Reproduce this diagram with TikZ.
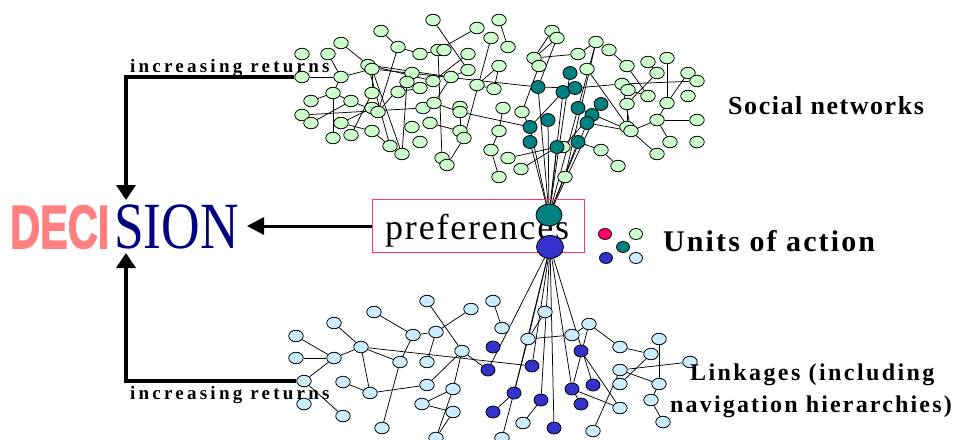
\documentclass[tikz,border=0pt]{standalone}
\usepackage{fontspec}
\setmainfont{Liberation Serif}
\newfontfamily\decisans{Liberation Sans}[FakeBold=2.5]
\usetikzlibrary{shapes.geometric,arrows.meta,backgrounds}
\definecolor{lgreen}{HTML}{CCFFCC}
\definecolor{tealc}{HTML}{008080}
\definecolor{lblue}{HTML}{CCECFF}
\definecolor{dblue}{HTML}{3333CC}
\definecolor{salmonc}{HTML}{FF8080}
\definecolor{navyc}{HTML}{000080}
\definecolor{pinkbox}{HTML}{FF3377}
\definecolor{reddot}{HTML}{FF0066}
\tikzset{
  nd/.style={ellipse, draw=black, line width=0.8pt, minimum width=14.5pt, minimum height=11.5pt, inner sep=0pt},
  gn/.style={nd, fill=lgreen},
  tn/.style={nd, fill=tealc, minimum width=14pt, minimum height=13pt},
  bn/.style={nd, fill=lblue},
  dn/.style={nd, fill=dblue, minimum width=14pt, minimum height=12pt},
  lnk/.style={line width=0.75pt},
  bigarrow/.style={line width=4pt, line join=miter, -{Triangle[width=19pt,length=15pt]}},
  midarrow/.style={line width=3pt, -{Triangle[width=17pt,length=17pt]}},
  lbl/.style={anchor=base west, inner sep=0pt},
}
\begin{document}
\begin{tikzpicture}[x=1pt,y=-1pt]
\useasboundingbox (0,0) rectangle (955,439);
% top network nodes
\foreach \n/\x/\y in {A1/381/31, A2/341/43, A3/398/47, A4/420/54, A5/302/54, A6/328/54, A7/368/65, A8/372/69, A9/302/77, A10/341/77, A11/412/73, A12/407/82, A13/420/88, A14/311/101, A15/333/93, A16/351/101, A17/372/93, A18/398/92, A19/372/108, A20/378/112, A21/423/108, A22/302/115, A23/311/123, A24/341/123, A25/351/135, A26/333/138, A27/372/131, A28/412/127, A29/390/146, A30/402/154, A31/420/142,
B1/433/20, B2/499/20, B3/477/28, B4/552/31, B5/557/38, B6/491/38, B7/508/47, B8/438/50, B9/444/50, B10/468/54, B11/534/58, B12/539/66, B13/499/66, B14/468/70, B15/451/77, B16/433/81, B17/477/85, B18/494/89, B19/434/103, B20/460/107, B21/460/112, B22/503/108, B23/522/112, B24/430/123, B25/460/131, B26/464/138, B27/499/131, B28/491/150, B29/508/158, B30/442/158, B31/447/165, B32/521/169, B33/499/177,
C1/596/42, C2/609/50, C3/578/54, C4/587/69, C5/627/66, C6/648/62, C7/667/58, C8/657/73, C9/688/73, C10/697/81, C11/622/84, C12/628/90, C13/648/96, C14/688/96, C15/667/103, C16/627/104, C17/627/127, C18/631/131, C19/657/120, C20/697/120, C21/563/147, C22/601/150, C23/670/142, C24/697/142, C25/657/154, C26/618/166, C27/565/177}
  \node[gn] (\n) at (\x,\y) {};
\foreach \n/\x/\y in {T1/538/87, T2/563/92, T3/570/73, T4/575/88, T5/530/127, T6/548/120, T7/530/142, T8/557/147, T9/601/104, T10/578/108, T11/592/115, T12/587/123, T13/578/142}
  \node[tn] (\n) at (\x,\y) {};
% bottom network nodes
\foreach \n/\x/\y in {D1/374/312, D2/334/323, D3/413/335, D4/296/336, D5/361/347, D6/334/358, D7/296/358, D8/400/362, D9/304/381, D10/343/382, D11/370/393, D12/304/404, D13/343/416, D14/382/428, D15/427/301, D16/493/301, D17/471/309, D18/545/312, D19/436/332, D20/502/328, D21/528/339, D22/462/351, D23/427/362, D24/427/385, D25/453/389, D26/422/404, D27/453/412, D28/523/423, D29/436/438, D30/502/438, D31/589/324, D32/572/335, D33/659/339, D34/620/347, D35/651/354, D36/620/370, D37/690/362, D38/620/384, D39/659/384, D40/651/400, D41/620/408, D42/663/422, D43/593/431}
  \node[bn] (\n) at (\x,\y) {};
\foreach \n/\x/\y in {E1/493/347, E2/488/370, E3/532/366, E4/514/393, E5/541/400, E6/493/412, E7/554/428, E8/581/351, E9/593/385, E10/572/389, E11/581/404}
  \node[dn] (\n) at (\x,\y) {};
% preferences
\node[draw=pinkbox, line width=1.1pt, minimum width=212pt, minimum height=53pt, anchor=north west, inner sep=0pt] (pref) at (372,199) {};
\node[lbl, font=\fontsize{36}{36}\selectfont\addfontfeatures{LetterSpace=5}] (preftext) at (385,239) {preferences};
% hubs
\node[nd, fill=tealc, minimum width=26pt, minimum height=22pt] (hubT) at (549,215) {};
\node[nd, fill=dblue, minimum width=27pt, minimum height=23pt] (hubB) at (550,247) {};
% edges
\begin{scope}[on background layer]
\foreach \a/\b in {A2/A7, A3/A1, A3/A4, A3/A20, A9/A10, A10/A8, A10/A15, A6/A10, A8/A17, A8/A30, A7/A29, A15/A14, A15/A26, A15/A16, A16/A20, A22/A21, A23/A16, A24/A27, A24/A19, A27/A29, A20/A11, A12/A30, A25/A17, A18/A13, A7/B15, A7/B16, A8/T1, A4/B9,
B1/B14, B2/B7, B3/B8, B6/B26, B8/B30, B14/B15, B15/B19, B13/B17, B17/B18, B21/T5, B21/B25, B21/B19, B24/B25, B26/B31, B22/B27, B23/T5, B12/B23, B11/B4, B11/B5, B11/C3, B5/T1, T1/T4, B28/B33, B29/T8, B32/T8, T5/T2, B10/B16, B28/B27, B18/B13,
C1/C3, C1/C27, C2/C5, C5/C13, C6/C8, C7/C15, C8/C16, C9/C15, C11/C10, T4/C11, C11/C18, C12/C13, C18/C19, C19/C20, C19/C23, C19/C15, C18/C25, T10/C18, C4/C18, T12/C18, C22/C26, T9/C21, C16/C17, T13/C22,
hubT/T1, hubT/T2, hubT/T3, hubT/T5, hubT/T6, hubT/T7, hubT/T8, hubT/T12, hubT/T13, hubT/C1, hubT/T9,
D1/D3, D2/D5, D4/D6, D7/D6, D6/D5, D5/E3, D22/E2, D5/D8, D5/D11, D3/D19, D8/D3, D8/D14, D9/D6, D9/D13, D10/D11, D11/D24, D15/D22, D17/D19, D19/D23, D16/D20, D18/D21, D21/D32, D22/D24, D22/D25, D26/D25, D26/D27, D25/D29, D27/D29, E6/E4, D28/E5, D21/D30, D31/D32, D31/D34, D31/E10, E8/D41, D34/D35, D36/D37, D36/D39, D36/D43, D35/D38, D33/D39, D39/D40, D40/D42, E10/E11, E10/D41,
hubB/E2, hubB/E4, hubB/E5, hubB/E7, hubB/E10, hubB/E9, hubB/E3, hubB/D21}
  \draw[lnk] (\a) -- (\b);
\end{scope}
% DECISION
\node[lbl, text=salmonc, font=\decisans\bfseries\fontsize{61}{61}\selectfont] (deci) at (10,248) {\scalebox{0.68}[1]{DECI}};
\node[lbl, text=navyc, font=\fontsize{66}{66}\selectfont] (sion) at (114,248) {\scalebox{0.81}[1]{SION}};
% arrows
\coordinate (tipT) at (126,200);
\coordinate (tipB) at (126,253);
\coordinate (tipH) at (247,226);
\draw[bigarrow] (A9.west) -| (tipT);
\draw[bigarrow] (D9.west) -| (tipB);
\draw[midarrow] (pref.west |- tipH) -- (tipH);
% labels
\node[lbl, font=\bfseries\fontsize{19}{19}\selectfont\addfontfeatures{LetterSpace=17}] (irtop) at (130,72) {increasing returns};
\node[lbl, font=\bfseries\fontsize{19}{19}\selectfont\addfontfeatures{LetterSpace=17}] (irbot) at (130,399) {increasing returns};
\node[lbl, font=\bfseries\fontsize{26}{26}\selectfont\addfontfeatures{LetterSpace=6}] (social) at (728,114) {Social networks};
\node[lbl, font=\bfseries\fontsize{30}{30}\selectfont\addfontfeatures{LetterSpace=7}] (units) at (663,251) {Units of action};
\node[lbl, font=\bfseries\fontsize{24}{24}\selectfont\addfontfeatures{LetterSpace=10}] (link1) at (690,380) {Linkages (including};
\node[lbl, font=\bfseries\fontsize{24}{24}\selectfont\addfontfeatures{LetterSpace=9}] (link2) at (670,412) {navigation hierarchies)};
% legend
\node[nd, fill=reddot, minimum width=13pt, minimum height=11pt] (legR) at (605,234) {};
\node[nd, fill=lgreen, minimum width=13pt, minimum height=11pt] (legG) at (636,234) {};
\node[nd, fill=tealc, minimum width=13pt, minimum height=11pt] (legT) at (623,247) {};
\node[nd, fill=dblue, minimum width=13pt, minimum height=11pt] (legD) at (606,258) {};
\node[nd, fill=lblue, minimum width=13pt, minimum height=11pt] (legB) at (636,258) {};
\end{tikzpicture}
\end{document}
